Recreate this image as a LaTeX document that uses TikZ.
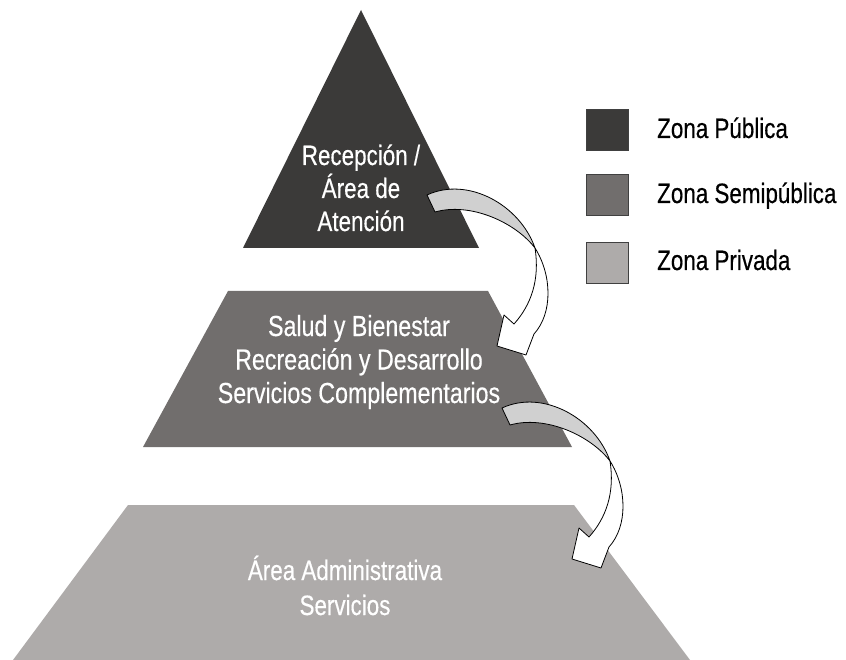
\documentclass[tikz,border=0pt]{standalone}
\usepackage{fontspec}
\setmainfont{Liberation Sans}[FakeStretch=0.8, FakeBold=0.4]
\definecolor{zpub}{HTML}{3B3A39}
\definecolor{zsemi}{HTML}{716E6D}
\definecolor{zpriv}{HTML}{AEABAA}
\definecolor{arrowback}{HTML}{D0D0D0}
\tikzset{
  pyrtext/.style={text=white, align=center, inner sep=0pt, anchor=base,
    font=\fontsize{28}{33}\selectfont},
  legbox/.style={draw=black!75, line width=0.9pt, minimum width=42pt, minimum height=41pt, inner sep=0pt},
  legtext/.style={text=black, inner sep=0pt, anchor=base west, font=\fontsize{28}{33}\selectfont},
  arrowline/.style={draw=black, line width=0.8pt, line join=round},
  twistarrow/.pic={
    \path[arrowline, fill=arrowback] (0,0) .. controls (41,-19) and (93,10) .. (108,53)
      .. controls (88,27) and (43,7) .. (8,17) -- cycle;
    \path[arrowline, fill=white] (108,53) .. controls (125,80) and (126,118) .. (107,139)
      -- (99,160) -- (70,151) -- (77,120) -- (87,129)
      .. controls (104,110) and (113,85) .. (108,53) -- cycle;
  }
}
\begin{document}
\begin{tikzpicture}[x=1pt, y=-1pt]
\useasboundingbox (0,0) rectangle (846,660);
% pyramid levels
\fill[zpub] (361,10) -- (479,248) -- (243,248) -- cycle;
\fill[zsemi] (228,291) -- (488,291) -- (572,447) -- (143,447) -- cycle;
\fill[zpriv] (128,505) -- (574,505) -- (690,660) -- (13,660) -- cycle;
% texts (base anchor = baseline of the last line)
\node[pyrtext] (top) at (361,231) {Recepción /\\Área de\\Atención};
\node[pyrtext, font=\fontsize{29}{33.5}\selectfont] (mid) at (359,403) {Salud y Bienestar\\Recreación y Desarrollo\\Servicios Complementarios};
\node[pyrtext, font=\fontsize{28}{35}\selectfont] (bot) at (345,615) {Área Administrativa\\Servicios};
% arrows
\coordinate (a1) at (427,195);
\coordinate (a2) at (502,408);
\pic at (a1) {twistarrow};
\pic at (a2) {twistarrow};
% legend
\node[legbox, fill=zpub] (l1) at (607,129.5) {};
\node[legbox, fill=zsemi] (l2) at (607,195) {};
\node[legbox, fill=zpriv] (l3) at (607,262.5) {};
\node[legtext] (t1) at (657,138) {Zona Pública};
\node[legtext] (t2) at (657,203) {Zona Semipública};
\node[legtext] (t3) at (657,270) {Zona Privada};
\end{tikzpicture}
\end{document}
